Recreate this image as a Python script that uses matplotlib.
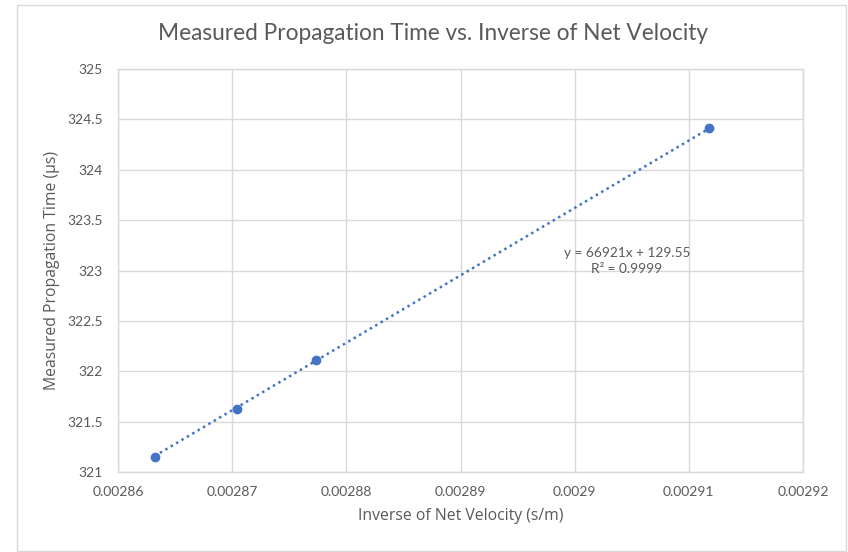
import matplotlib
matplotlib.use("Agg")
import matplotlib.pyplot as plt
import numpy as np
from matplotlib.patches import Rectangle

plt.rcParams['font.family'] = ['Lato', 'DejaVu Sans']

# Data
inv_velocity = [0.0028632, 0.0028704, 0.0028773, 0.0029118]
prop_time = [321.15, 321.63, 322.11, 324.41]
trend_slope = 66921
trend_intercept = 129.55
trend_label = "y = 66921x + 129.55\nR² = 0.9999"
x_ticks = [0.00286, 0.00287, 0.00288, 0.00289, 0.0029, 0.00291, 0.00292]
x_tick_labels = ["0.00286", "0.00287", "0.00288", "0.00289", "0.0029", "0.00291", "0.00292"]
y_ticks = [321, 321.5, 322, 322.5, 323, 323.5, 324, 324.5, 325]
y_tick_labels = ["321", "321.5", "322", "322.5", "323", "323.5", "324", "324.5", "325"]

TEXT = "#595959"
GRID = "#d9d9d9"
BLUE = "#4472C4"

fig = plt.figure(figsize=(8.48, 5.52), dpi=100)
fig.patch.set_facecolor("white")
# outer chart frame
fig.add_artist(Rectangle((17/848, 1/552), (846-17)/848, (547-1)/552, transform=fig.transFigure,
                         fill=False, edgecolor=GRID, linewidth=1.0))

ax = fig.add_axes([118/848, 1-472/552, (803-118)/848, (472-69)/552])

x_arr = np.array(inv_velocity)
xs = np.array([x_arr.min(), x_arr.max()])
ax.plot(xs, trend_slope*xs + trend_intercept, linestyle=(0, (1, 1.5)), color=BLUE, linewidth=1.8, zorder=2)
ax.plot(inv_velocity, prop_time, 'o', color=BLUE, markersize=6, zorder=3)

ax.set_xlim(x_ticks[0], x_ticks[-1])
ax.set_ylim(y_ticks[0], y_ticks[-1])
ax.set_xticks(x_ticks)
ax.set_xticklabels(x_tick_labels)
ax.set_yticks(y_ticks)
ax.set_yticklabels(y_tick_labels)
ax.tick_params(length=0, colors=TEXT, labelsize=10)
ax.tick_params(axis='x', pad=10)
ax.tick_params(axis='y', pad=11)
ax.grid(True, color=GRID, linewidth=1.0)
ax.set_axisbelow(True)
for s in ax.spines.values():
    s.set_color(GRID)
    s.set_linewidth(1.0)

ax.set_xlabel("Inverse of Net Velocity (s/m)", color=TEXT, fontsize=11.3,
              family=['Open Sans', 'DejaVu Sans'], labelpad=7)
ax.set_ylabel("Measured Propagation Time (µs)", color=TEXT, fontsize=11.3,
              family=['Open Sans', 'DejaVu Sans'], labelpad=5)

fig.text(433/848, 1-34/552, "Measured Propagation Time vs. Inverse of Net Velocity",
         ha='center', va='center', color=TEXT, fontsize=16.3)

ax.text((627-118)/(803-118), 1-(261-69)/(472-69), trend_label, transform=ax.transAxes,
        ha='center', va='center', color=TEXT, fontsize=9.8, linespacing=1.45)

fig.savefig("out.png", dpi=100, facecolor="white")
